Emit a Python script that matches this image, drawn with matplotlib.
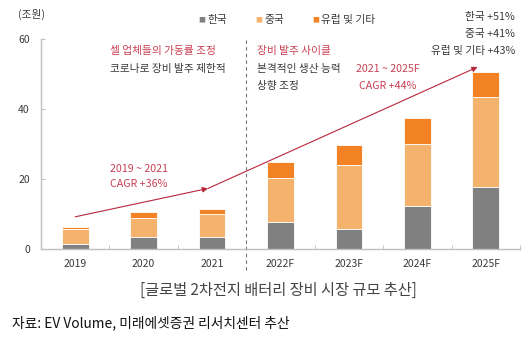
import numpy as np
import matplotlib.pyplot as plt

plt.rcParams['font.family'] = ['Noto Sans CJK KR', 'DejaVu Sans']

years = ['2019', '2020', '2021', '2022F', '2023F', '2024F', '2025F']
korea = [1.5, 3.5, 3.3, 7.6, 5.7, 12.4, 17.8]
china = [4.3, 5.5, 6.7, 12.6, 18.3, 17.5, 25.7]
europe = [0.5, 1.5, 1.5, 4.6, 5.8, 7.4, 7.1]

series_names = ['한국', '중국', '유럽 및 기타']
cagr_labels = ['한국 +51%', '중국 +41%', '유럽 및 기타 +43%']

# trend arrows: (x, y) in data units
trend_start = (0.0, 9.2)
trend_mid = (1.94, 17.3)
trend_end = (5.88, 52.0)

c_korea = '#808080'
c_china = '#F4B26C'
c_europe = '#F28223'
c_red = '#C93F52'
c_arrow = '#B8283C'
c_text = '#3A3A3A'

fig = plt.figure(figsize=(5.27, 3.41), dpi=100)
ax = fig.add_axes([41 / 527, 1 - 249 / 341, 479 / 527, 210 / 341])

x = np.arange(len(years))
w = 0.39
k = np.array(korea)
c = np.array(china)
e = np.array(europe)
ax.bar(x, k, w, color=c_korea, edgecolor='white', linewidth=0.6)
ax.bar(x, c, w, bottom=k, color=c_china, edgecolor='white', linewidth=0.6)
ax.bar(x, e, w, bottom=k + c, color=c_europe, edgecolor='white', linewidth=0.6)

ax.set_xlim(-0.5, 6.5)
ax.set_ylim(0, 60)
ax.set_yticks([0, 20, 40, 60])
ax.set_xticks(x)
ax.set_xticklabels(years)
ax.set_xticks(np.arange(0.5, 7, 1), minor=True)
ax.tick_params(axis='x', which='major', length=0, pad=7, labelsize=7.5, labelcolor=c_text)
ax.tick_params(axis='x', which='minor', direction='in', length=3, color='#BFBFBF')
ax.tick_params(axis='y', direction='in', length=3, color='#BFBFBF', pad=8,
               labelsize=7.5, labelcolor=c_text)
for s in ['top', 'right']:
    ax.spines[s].set_visible(False)
for s in ['left', 'bottom']:
    ax.spines[s].set_color('#BFBFBF')
    ax.spines[s].set_linewidth(1.0)

# actual / forecast divider
ax.plot([2.5, 2.5], [-6, 60], ls=(0, (3, 3)), color='#707070', lw=0.8, clip_on=False)

ax.annotate('', xy=trend_mid, xytext=trend_start,
            arrowprops=dict(arrowstyle='-|>', color=c_arrow, lw=0.8,
                            mutation_scale=8, shrinkA=0, shrinkB=0))
ax.annotate('', xy=trend_end, xytext=trend_mid,
            arrowprops=dict(arrowstyle='-|>', color=c_arrow, lw=0.8,
                            mutation_scale=8, shrinkA=0, shrinkB=0))

fs = 7.7
ax.text(0.51, 56.5, '셀 업체들의 가동률 조정', color=c_red, fontsize=fs, va='center')
ax.text(0.51, 51.3, '코로나로 장비 발주 제한적', color=c_text, fontsize=fs, va='center')
ax.text(2.66, 56.5, '장비 발주 사이클', color=c_red, fontsize=fs, va='center')
ax.text(2.66, 51.3, '본격적인 생산 능력', color=c_text, fontsize=fs, va='center')
ax.text(2.66, 46.5, '상향 조정', color=c_text, fontsize=fs, va='center')
ax.text(4.57, 51.3, '2021 ~ 2025F', color=c_red, fontsize=fs, va='center', ha='center')
ax.text(4.57, 46.7, 'CAGR +44%', color=c_red, fontsize=fs, va='center', ha='center')
ax.text(0.93, 23.0, '2019 ~ 2021', color=c_red, fontsize=fs, va='center', ha='center')
ax.text(0.93, 18.6, 'CAGR +36%', color=c_red, fontsize=fs, va='center', ha='center')

# legend row
legend_x = [202, 259, 316]
for lx, name, col in zip(legend_x, series_names, [c_korea, c_china, c_europe]):
    fig.text(lx / 527, 1 - 20 / 341, '■', color=col, fontsize=5, va='center', ha='center')
    fig.text((lx + 5) / 527, 1 - 20 / 341, name, color=c_text, fontsize=fs, va='center')

for i, lab in enumerate(cagr_labels):
    fig.text(515 / 527, 1 - (17 + 17 * i) / 341, lab, color=c_text, fontsize=fs,
             va='center', ha='right')

fig.text(18 / 527, 1 - 14 / 341, '(조원)', color=c_text, fontsize=fs, va='center')
fig.text(278 / 527, 1 - 290 / 341, '[글로벌 2차전지 배터리 장비 시장 규모 추산]',
         color='#444444', fontsize=11, va='center', ha='center')
fig.text(12 / 527, 1 - 323 / 341, '자료: EV Volume, 미래에셋증권 리서치센터 추산',
         color='#111111', fontsize=9.9, va='center')

fig.savefig('out.png', dpi=100)
